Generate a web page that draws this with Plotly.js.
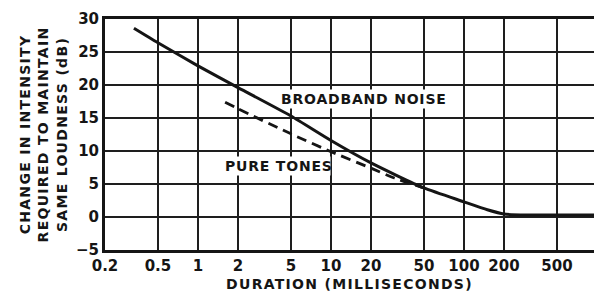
<!DOCTYPE html>
<html><head><meta charset="utf-8">
<script src="https://cdn.plot.ly/plotly-3.0.1.min.js"></script>
<style>
html,body{margin:0;padding:0;background:#fff}#c{width:594px;height:298px}
#c .xtitle, #c .ytitle { letter-spacing: 1.3px; }
#c .annotation-text { letter-spacing: 0.8px; }
</style>
</head><body><div id="c"></div>
<script>
// Broadband noise (solid)
const noiseDur = [0.33, 0.5, 1, 2, 5, 10, 20, 50, 100, 150, 200, 300, 500, 950];
const noiseDb  = [28.6, 26.4, 22.9, 19.6, 15.3, 11.6, 8.2, 4.4, 2.3, 1.1, 0.45, 0.3, 0.3, 0.3];
// Pure tones (dashed)
const toneDur = [1.6, 2, 5, 10, 20, 30, 50];
const toneDb  = [17.4, 16.4, 12.6, 9.9, 7.4, 5.9, 4.4];
const xTicks = [0.2, 0.5, 1, 2, 5, 10, 20, 50, 100, 200, 500];
const xTickText = ['0.2', '0.5', '1', '2', '5', '10', '20', '50', '100', '200', '500'];
const yTicks = [-5, 0, 5, 10, 15, 20, 25, 30];
const yTickText = ['−5', '0', '5', '10', '15', '20', '25', '30'];

const F = 'DejaVu Sans, sans-serif';
const C = '#151515';
const data = [
  {x: noiseDur, y: noiseDb, mode: 'lines', line: {color: C, width: 3, shape: 'spline', smoothing: 0.6}, hoverinfo: 'skip'},
  {x: toneDur, y: toneDb, mode: 'lines', line: {color: C, width: 2.8, dash: '10px,6px', shape: 'spline', smoothing: 0.6}, hoverinfo: 'skip'}
];
const layout = {
  width: 594, height: 298,
  margin: {l: 105, r: 0, t: 19, b: 48},
  paper_bgcolor: '#fff', plot_bgcolor: '#fff',
  showlegend: false,
  font: {family: F, color: C},
  xaxis: {
    type: 'log', range: [Math.log10(0.2), Math.log10(0.2) + 489/133],
    tickvals: xTicks, ticktext: xTickText, ticks: '',
    showgrid: true, gridcolor: '#1e1e1e', gridwidth: 1.8,
    showline: true, linecolor: C, linewidth: 3, mirror: true,
    tickfont: {size: 15, family: F, color: C, weight: 'bold'},
    title: {text: 'DURATION (MILLISECONDS)', font: {size: 14, family: F, color: C, weight: 'bold'}, standoff: 6},
    zeroline: false
  },
  yaxis: {
    range: [-5, 30], tickvals: yTicks, ticktext: yTickText, ticks: '',
    showgrid: true, gridcolor: '#1e1e1e', gridwidth: 1.8,
    showline: true, linecolor: C, linewidth: 3,
    tickfont: {size: 15, family: F, color: C, weight: 'bold'},
    title: {text: 'CHANGE IN INTENSITY<br>REQUIRED TO MAINTAIN<br>SAME LOUDNESS (dB)', font: {size: 14, family: F, color: C, weight: 'bold'}, standoff: 6},
    zeroline: false
  },
  annotations: [
    {x: Math.log10(17.7), y: 17.9, text: 'BROADBAND NOISE', showarrow: false, bgcolor: '#fff', font: {size: 14, family: F, color: C, weight: 'bold'}},
    {x: Math.log10(4.07), y: 7.8, text: 'PURE TONES', showarrow: false, bgcolor: '#fff', font: {size: 14, family: F, color: C, weight: 'bold'}}
  ]
};
Plotly.newPlot('c', data, layout, {staticPlot: true});
</script></body></html>
